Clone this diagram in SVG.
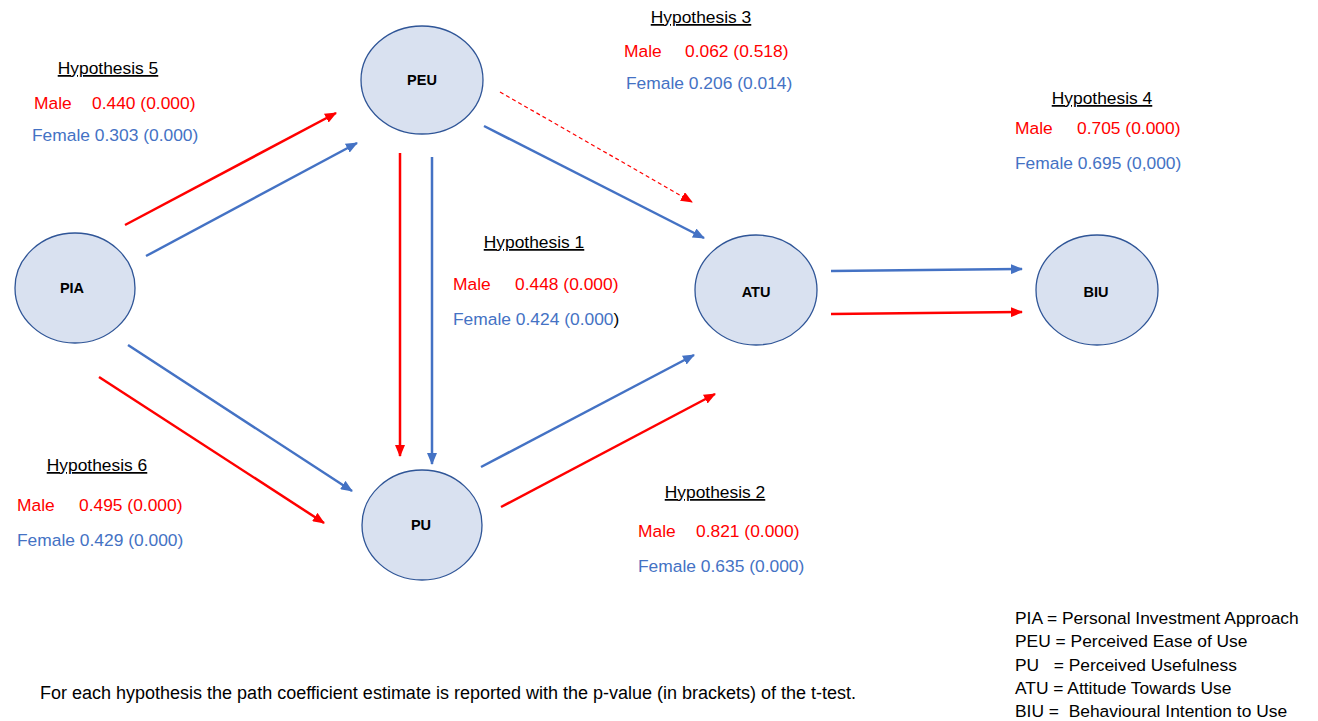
<svg xmlns="http://www.w3.org/2000/svg" width="1318" height="721" viewBox="0 0 1318 721">
<style>
.node{fill:#D9E1F0;stroke:#2F5597;stroke-width:1.3}
.nl{font-family:"Liberation Sans",Arial,sans-serif;font-weight:bold;font-size:14.5px;fill:#000;text-anchor:middle}
.t{font-family:"Liberation Sans",Arial,sans-serif;font-size:17.4px}
.h{text-decoration:underline;fill:#000;text-anchor:middle}
.r{fill:#FF0000}
.b{fill:#4472C4}
.k{fill:#000}
.lg{font-family:"Liberation Sans",Arial,sans-serif;font-size:17.4px;fill:#000}
.ft{font-family:"Liberation Sans",Arial,sans-serif;font-size:18px;fill:#000}
.cr{stroke:#FF0000;stroke-width:2.5;fill:none}
.cb{stroke:#4472C4;stroke-width:2.5;fill:none}
.cd{stroke:#FF0000;stroke-width:1.2;stroke-dasharray:4 3;fill:none}
</style>
<defs>
<marker id="ar" markerUnits="userSpaceOnUse" markerWidth="12" markerHeight="10" refX="11" refY="5" orient="auto"><path d="M0,0 L12,5 L0,10 Z" fill="#FF0000"/></marker>
<marker id="ab" markerUnits="userSpaceOnUse" markerWidth="12" markerHeight="10" refX="11" refY="5" orient="auto"><path d="M0,0 L12,5 L0,10 Z" fill="#4472C4"/></marker>
</defs>
<rect width="1318" height="721" fill="#fff"/>
<g id="connectors">
<line class="cr" x1="125" y1="225" x2="336" y2="113" marker-end="url(#ar)"/>
<line class="cb" x1="146" y1="256" x2="357" y2="143" marker-end="url(#ab)"/>
<line class="cr" x1="400" y1="153" x2="400" y2="456" marker-end="url(#ar)"/>
<line class="cb" x1="432" y1="157" x2="432" y2="464" marker-end="url(#ab)"/>
<line class="cb" x1="484" y1="126" x2="704" y2="238" marker-end="url(#ab)"/>
<line class="cd" x1="500" y1="92" x2="692" y2="202" marker-end="url(#ar)"/>
<line class="cb" x1="831" y1="271" x2="1022" y2="269" marker-end="url(#ab)"/>
<line class="cr" x1="831" y1="314" x2="1022" y2="312" marker-end="url(#ar)"/>
<line class="cb" x1="128" y1="345" x2="352" y2="491" marker-end="url(#ab)"/>
<line class="cr" x1="99" y1="377" x2="324" y2="523" marker-end="url(#ar)"/>
<line class="cb" x1="481" y1="467" x2="694" y2="355" marker-end="url(#ab)"/>
<line class="cr" x1="501" y1="507" x2="715" y2="394" marker-end="url(#ar)"/>
</g>
<g id="PEU"><ellipse class="node" cx="422" cy="80" rx="61" ry="54"/><text class="nl" x="422" y="85">PEU</text></g>
<g id="PIA"><ellipse class="node" cx="75" cy="288" rx="60" ry="55"/><text class="nl" x="72" y="293">PIA</text></g>
<g id="PU"><ellipse class="node" cx="422" cy="525" rx="60" ry="55"/><text class="nl" x="421" y="530">PU</text></g>
<g id="ATU"><ellipse class="node" cx="756" cy="290" rx="61" ry="55"/><text class="nl" x="756" y="297">ATU</text></g>
<g id="BIU"><ellipse class="node" cx="1097" cy="290" rx="61" ry="55"/><text class="nl" x="1096" y="297">BIU</text></g>
<g id="labels" class="t">
<text class="t h" x="108" y="74">Hypothesis 5</text>
<text class="t r" x="34" y="109">Male</text><text class="t r" x="92" y="109">0.440 (0.000)</text>
<text class="t b" x="32" y="141">Female 0.303 (0.000)</text>
<text class="t h" x="701" y="23">Hypothesis 3</text>
<text class="t r" x="624" y="57">Male</text><text class="t r" x="685" y="57">0.062 (0.518)</text>
<text class="t b" x="626" y="89">Female 0.206 (0.014)</text>
<text class="t h" x="1102" y="104">Hypothesis 4</text>
<text class="t r" x="1015" y="134">Male</text><text class="t r" x="1077" y="134">0.705 (0.000)</text>
<text class="t b" x="1015" y="169">Female 0.695 (0,000)</text>
<text class="t h" x="534" y="248">Hypothesis 1</text>
<text class="t r" x="453" y="290">Male</text><text class="t r" x="515" y="290">0.448 (0.000)</text>
<text class="t b" x="453" y="325">Female 0.424 (0.000<tspan class="k">)</tspan></text>
<text class="t h" x="97" y="471">Hypothesis 6</text>
<text class="t r" x="17" y="511">Male</text><text class="t r" x="79" y="511">0.495 (0.000)</text>
<text class="t b" x="17" y="546">Female 0.429 (0.000)</text>
<text class="t h" x="715" y="498">Hypothesis 2</text>
<text class="t r" x="638" y="537">Male</text><text class="t r" x="696" y="537">0.821 (0.000)</text>
<text class="t b" x="638" y="572">Female 0.635 (0.000)</text>
</g>
<g id="legend" class="lg">
<text class="lg" x="1015" y="624">PIA = Personal Investment Approach</text>
<text class="lg" x="1015" y="647">PEU = Perceived Ease of Use</text>
<text class="lg" x="1015" y="671" xml:space="preserve">PU   = Perceived Usefulness</text>
<text class="lg" x="1015" y="694">ATU = Attitude Towards Use</text>
<text class="lg" x="1015" y="717" xml:space="preserve">BIU =  Behavioural Intention to Use</text>
</g>
<text id="footer" class="ft" x="40" y="699">For each hypothesis the path coefficient estimate is reported with the p-value (in brackets) of the t-test.</text>
</svg>
